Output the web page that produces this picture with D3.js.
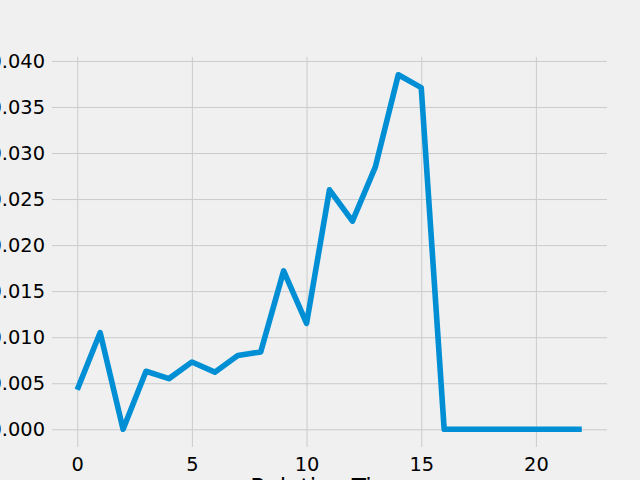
<!DOCTYPE html>
<html>
<head>
<meta charset="utf-8">
<script src="https://cdn.jsdelivr.net/npm/d3@7"></script>
<style>
  html, body { margin: 0; padding: 0; background: #f0f0f0; }
  #chart { width: 640px; height: 480px; overflow: hidden; }
  text { font-family: "DejaVu Sans", sans-serif; fill: #000; }
</style>
</head>
<body>
<div id="chart"></div>
<script>
// values
var steps = [0, 1, 2, 3, 4, 5, 6, 7, 8, 9, 10, 11, 12, 13, 14, 15, 16, 17, 18, 19, 20, 21, 22];
var share = [0.0043, 0.0105, 0.0, 0.0063, 0.0055, 0.0073, 0.0062, 0.0080, 0.0084, 0.0172, 0.0115,
             0.0260, 0.0226, 0.0285, 0.0385, 0.0371, 0.0, 0.0, 0.0, 0.0, 0.0, 0.0, 0.0];
var xTicks = [0, 5, 10, 15, 20];
var yTicks = [0.000, 0.005, 0.010, 0.015, 0.020, 0.025, 0.030, 0.035, 0.040];
var xLabel = "Relative Time";

// canvas size
var xcanvas = 640;
var ycanvas = 480;
// axes box inside the canvas
var axLeft = 52, axRight = 607, axTop = 57, axBottom = 447;

var svg = d3.select('#chart').append('svg')
  .attr('width', xcanvas)
  .attr('height', ycanvas);

svg.append('rect')
  .attr('width', xcanvas).attr('height', ycanvas)
  .attr('fill', '#f0f0f0');

// matplotlib style 5% margins
var xPad = (d3.max(steps) - d3.min(steps)) * 0.05;
var yPad = (d3.max(share) - d3.min(share)) * 0.05;

var x = d3.scaleLinear()
  .domain([d3.min(steps) - xPad, d3.max(steps) + xPad])
  .range([axLeft, axRight]);

var y = d3.scaleLinear()
  .domain([d3.min(share) - yPad, d3.max(share) + yPad])
  .range([axBottom, axTop]);

// grid + tick labels through d3 axes
var xAxis = d3.axisBottom(x)
  .tickValues(xTicks)
  .tickSize(-(axBottom - axTop))
  .tickPadding(10)
  .tickFormat(d3.format('d'));

var yAxis = d3.axisLeft(y)
  .tickValues(yTicks)
  .tickSize(-(axRight - axLeft))
  .tickPadding(7)
  .tickFormat(d3.format('.3f'));

var gx = svg.append('g')
  .attr('transform', 'translate(0,' + axBottom + ')')
  .call(xAxis);

var gy = svg.append('g')
  .attr('transform', 'translate(' + axLeft + ',0)')
  .call(yAxis);

[gx, gy].forEach(function (g) {
  g.select('.domain').remove();
  g.selectAll('line').attr('stroke', '#cbcbcb').attr('stroke-width', 1);
  g.selectAll('text')
    .attr('font-size', '19.4px')
    .attr('font-family', '"DejaVu Sans", sans-serif')
    .attr('fill', '#000');
});

// the line
var line = d3.line()
  .x(function (d, i) { return x(steps[i]); })
  .y(function (d) { return y(d); });

svg.append('path')
  .datum(share)
  .attr('d', line)
  .attr('fill', 'none')
  .attr('stroke', '#008fd5')
  .attr('stroke-width', 5.6)
  .attr('stroke-linejoin', 'round')
  .attr('stroke-linecap', 'butt');

// x axis label, mostly cut off by the bottom edge
svg.append('text')
  .text(xLabel)
  .attr('x', (axLeft + axRight) / 2)
  .attr('y', 495)
  .attr('text-anchor', 'middle')
  .attr('font-size', '23.3px');
</script>
</body>
</html>
